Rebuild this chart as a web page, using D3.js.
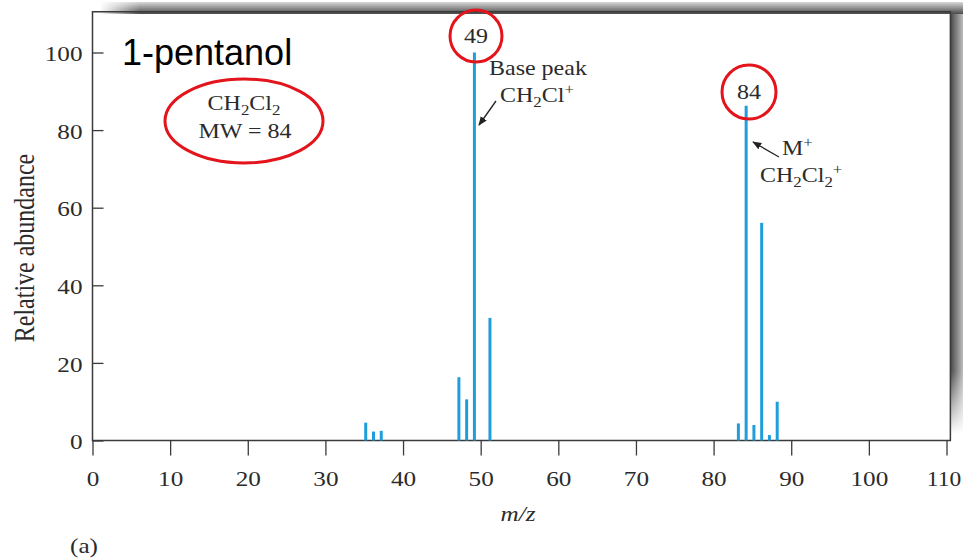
<!DOCTYPE html>
<html>
<head>
<meta charset="utf-8">
<script src="https://cdn.jsdelivr.net/npm/d3@7"></script>
<style>
  html, body { margin: 0; padding: 0; background: #fff; }
  svg { display: block; }
  .serif { font-family: "Liberation Serif", "DejaVu Serif", serif; fill: #2b2b2b; }
</style>
</head>
<body>
<svg id="chart" width="963" height="558"></svg>
<script>
// ---- data ----
const mz = [35, 36, 37, 47, 48, 49, 51, 83, 84, 85, 86, 87, 88];
const abundance = [4.6, 2.3, 2.5, 16.3, 10.6, 100, 31.6, 4.4, 86.3, 4.0, 56.1, 1.4, 10.0];
const xTicks = [0, 10, 20, 30, 40, 50, 60, 70, 80, 90, 100, 110];
const yTicks = [0, 20, 40, 60, 80, 100];
const xTitle = "m/z";
const yTitle = "Relative abundance";
const title = "1-pentanol";

const svg = d3.select("#chart");
const SX = 1.2; // horizontal stretch of the scanned serif text

const x = d3.scaleLinear().domain([0, 110]).range([92.5, 946.5]);
const y = d3.scaleLinear().domain([0, 100]).range([440.5, 52.5]);

// ---- scan shadows ----
const defs = svg.append("defs");
const gTop = defs.append("linearGradient").attr("id", "gTop").attr("x1", 0).attr("y1", 0).attr("x2", 0).attr("y2", 1);
gTop.append("stop").attr("offset", "0%").attr("stop-color", "#d8d8d8");
gTop.append("stop").attr("offset", "100%").attr("stop-color", "#4a4a4a");
const gTopH = defs.append("linearGradient").attr("id", "gTopH").attr("x1", 0).attr("y1", 0).attr("x2", 1).attr("y2", 0);
gTopH.append("stop").attr("offset", "0%").attr("stop-color", "#fff").attr("stop-opacity", 1);
gTopH.append("stop").attr("offset", "100%").attr("stop-color", "#fff").attr("stop-opacity", 0);
const gRight = defs.append("linearGradient").attr("id", "gRight").attr("x1", 0).attr("y1", 0).attr("x2", 1).attr("y2", 0);
gRight.append("stop").attr("offset", "0%").attr("stop-color", "#444");
gRight.append("stop").attr("offset", "100%").attr("stop-color", "#bdbdbd");
const gRightV = defs.append("linearGradient").attr("id", "gRightV").attr("x1", 0).attr("y1", 0).attr("x2", 0).attr("y2", 1);
gRightV.append("stop").attr("offset", "0%").attr("stop-color", "#fff").attr("stop-opacity", 0);
gRightV.append("stop").attr("offset", "85%").attr("stop-color", "#fff").attr("stop-opacity", 0);
gRightV.append("stop").attr("offset", "100%").attr("stop-color", "#fff").attr("stop-opacity", 1);

svg.append("rect").attr("x", 100).attr("y", 2).attr("width", 863).attr("height", 12).attr("fill", "url(#gTop)");
svg.append("rect").attr("x", 100).attr("y", 2).attr("width", 40).attr("height", 12).attr("fill", "url(#gTopH)");
svg.append("rect").attr("x", 950).attr("y", 14).attr("width", 13).attr("height", 420).attr("fill", "url(#gRight)");
svg.append("rect").attr("x", 950).attr("y", 14).attr("width", 13).attr("height", 420).attr("fill", "url(#gRightV)");

// ---- frame ----
const x0 = x(0), x1 = x(110.5), yb = y(0), yt = y(110.5);
svg.append("rect")
  .attr("x", x0).attr("y", yt).attr("width", x1 - x0).attr("height", yb - yt)
  .attr("fill", "none").attr("stroke", "#3a3a3a").attr("stroke-width", 1.5);

// ---- peaks ----
svg.append("g").selectAll("line").data(mz).join("line")
  .attr("x1", d => x(d) + 1.5).attr("x2", d => x(d) + 1.5)
  .attr("y1", y(0)).attr("y2", (d, i) => y(abundance[i]))
  .attr("stroke", "#1f9edb").attr("stroke-width", 3);

// ---- axes ----
const xAxis = svg.append("g").attr("transform", `translate(0,${yb})`)
  .call(d3.axisBottom(x).tickValues(xTicks).tickSizeInner(15).tickSizeOuter(0).tickPadding(16));
xAxis.select(".domain").remove();
xAxis.selectAll(".tick line").attr("stroke", "#3a3a3a").attr("stroke-width", 1.3);
xAxis.selectAll(".tick text").attr("class", "serif").attr("font-size", 21)
  .attr("transform", d => d === 110 ? `translate(-3,0) scale(1.12,1)` : `scale(${SX},1)`);

const yAxis = svg.append("g").attr("transform", `translate(${x0},0)`)
  .call(d3.axisLeft(y).tickValues(yTicks).tickSizeInner(-11).tickSizeOuter(0).tickPadding(0));
yAxis.select(".domain").remove();
yAxis.selectAll(".tick line").attr("stroke", "#3a3a3a").attr("stroke-width", 1.3);
yAxis.selectAll(".tick text").attr("class", "serif").attr("font-size", 21)
  .attr("x", 0).attr("transform", `translate(-10,1.5) scale(${SX},1)`);

// ---- axis titles ----
svg.append("text").attr("class", "serif").attr("font-size", 21).attr("font-style", "italic")
  .attr("text-anchor", "middle").attr("transform", `translate(518,521) scale(${SX},1)`).text(xTitle);
svg.append("text").attr("class", "serif").attr("font-size", 24)
  .attr("text-anchor", "middle").attr("transform", `translate(34,248) scale(${SX},1) rotate(-90)`).text(yTitle);
svg.append("text").attr("class", "serif").attr("font-size", 21)
  .attr("transform", `translate(70,553) scale(${SX},1)`).text("(a)");

// ---- title overlay ----
svg.append("text").attr("x", 122).attr("y", 65)
  .attr("font-family", "Liberation Sans, Arial, sans-serif").attr("font-size", 36).attr("fill", "#000")
  .text(title);

// ---- molecule box ----
svg.append("ellipse").attr("cx", 244).attr("cy", 121).attr("rx", 79).attr("ry", 42)
  .attr("fill", "none").attr("stroke", "#e3141b").attr("stroke-width", 3);
{
  const t = svg.append("text").attr("class", "serif").attr("font-size", 20).attr("text-anchor", "middle")
    .attr("transform", `translate(244,110) scale(${SX},1)`);
  t.append("tspan").text("CH");
  t.append("tspan").text("2").attr("font-size", 14).attr("dy", 5);
  t.append("tspan").text("Cl").attr("dy", -5);
  t.append("tspan").text("2").attr("font-size", 14).attr("dy", 5);
  svg.append("text").attr("class", "serif").attr("font-size", 20).attr("text-anchor", "middle")
    .attr("transform", `translate(245,138) scale(${SX},1)`).text("MW = 84");
}

// ---- circled peak labels ----
const marks = [{v: 49, cx: 476, cy: 36, r: 26}, {v: 84, cx: 749, cy: 92, r: 27}];
marks.forEach(m => {
  svg.append("circle").attr("cx", m.cx).attr("cy", m.cy).attr("r", m.r)
    .attr("fill", "none").attr("stroke", "#e3141b").attr("stroke-width", 3);
  svg.append("text").attr("class", "serif").attr("font-size", 20).attr("text-anchor", "middle")
    .attr("transform", `translate(${m.cx},${m.cy + 7}) scale(${SX},1)`).text(m.v);
});

// ---- annotations ----
defs.append("marker").attr("id", "arr").attr("viewBox", "0 0 10 10").attr("refX", 9).attr("refY", 5)
  .attr("markerWidth", 7).attr("markerHeight", 7).attr("orient", "auto-start-reverse")
  .append("path").attr("d", "M0,1 L10,5 L0,9 Z").attr("fill", "#222");

svg.append("text").attr("class", "serif").attr("font-size", 20)
  .attr("transform", `translate(489,75) scale(${SX},1)`).text("Base peak");
{
  const t = svg.append("text").attr("class", "serif").attr("font-size", 20)
    .attr("transform", `translate(500,102) scale(${SX},1)`);
  t.append("tspan").text("CH");
  t.append("tspan").text("2").attr("font-size", 14).attr("dy", 5);
  t.append("tspan").text("Cl").attr("dy", -5);
  t.append("tspan").text("+").attr("font-size", 14).attr("dy", -8);
}
svg.append("line").attr("x1", 496).attr("y1", 101).attr("x2", 479).attr("y2", 125)
  .attr("stroke", "#222").attr("stroke-width", 1.3).attr("marker-end", "url(#arr)");

{
  const t = svg.append("text").attr("class", "serif").attr("font-size", 20)
    .attr("transform", `translate(782,155) scale(${SX},1)`);
  t.append("tspan").text("M");
  t.append("tspan").text("+").attr("font-size", 14).attr("dy", -8);
  const t2 = svg.append("text").attr("class", "serif").attr("font-size", 20)
    .attr("transform", `translate(760,182) scale(${SX},1)`);
  t2.append("tspan").text("CH");
  t2.append("tspan").text("2").attr("font-size", 14).attr("dy", 5);
  t2.append("tspan").text("Cl").attr("dy", -5);
  t2.append("tspan").text("2").attr("font-size", 14).attr("dy", 5);
  t2.append("tspan").text("+").attr("font-size", 14).attr("dy", -13);
}
svg.append("line").attr("x1", 779).attr("y1", 157).attr("x2", 753).attr("y2", 142)
  .attr("stroke", "#222").attr("stroke-width", 1.3).attr("marker-end", "url(#arr)");
</script>
</body>
</html>
